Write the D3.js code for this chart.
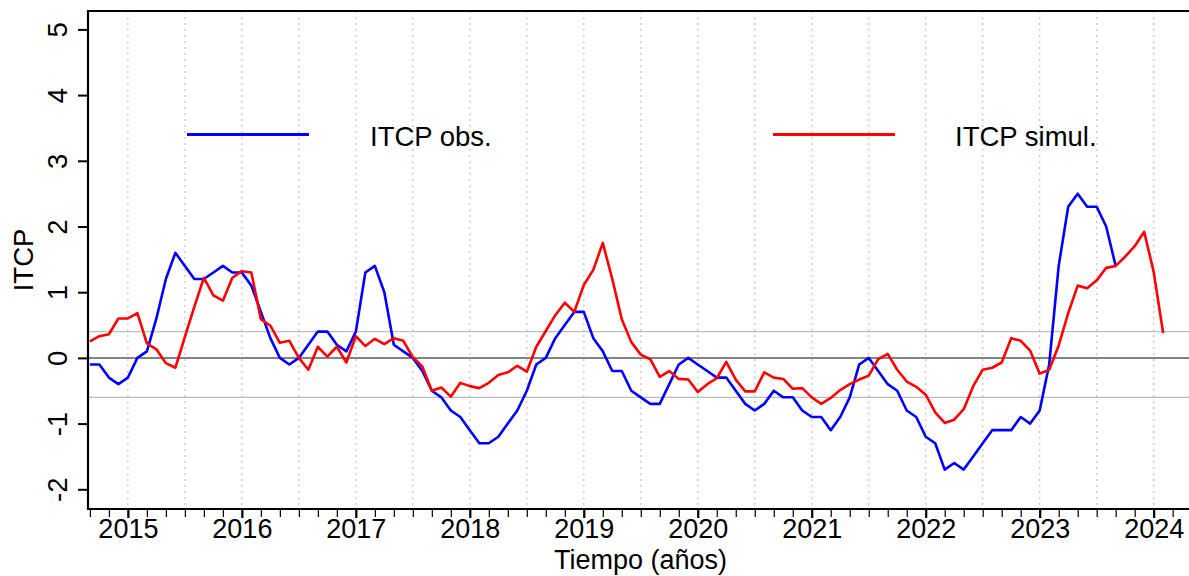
<!DOCTYPE html>
<html>
<head>
<meta charset="utf-8">
<script src="https://cdn.jsdelivr.net/npm/d3@7"></script>
<style>
    body { margin: 0; background: #fff; }
    #chart { width: 1189px; height: 576px; overflow: hidden; }
    text { font-family: "Liberation Sans", Arial, sans-serif; fill: #000; }
</style>
</head>
<body>
<div id="chart"></div>
<script>

// monthly series, first month = sept 2014
let startYear = 2014;
let startMonth = 9;

// ITCP observado (hasta sept 2023)
let itcpObs = [
    -0.1, -0.1, -0.3, -0.4,
    -0.3, 0.0, 0.1, 0.6, 1.2, 1.6, 1.4, 1.2, 1.2, 1.3, 1.4, 1.3,
    1.3, 1.1, 0.7, 0.3, 0.0, -0.1, 0.0, 0.2, 0.4, 0.4, 0.2, 0.1,
    0.4, 1.3, 1.4, 1.0, 0.2, 0.1, 0.0, -0.2, -0.5, -0.6, -0.8, -0.9,
    -1.1, -1.3, -1.3, -1.2, -1.0, -0.8, -0.5, -0.1, 0.0, 0.3, 0.5, 0.7,
    0.7, 0.3, 0.1, -0.2, -0.2, -0.5, -0.6, -0.7, -0.7, -0.4, -0.1, 0.0,
    -0.1, -0.2, -0.3, -0.3, -0.5, -0.7, -0.8, -0.7, -0.5, -0.6, -0.6, -0.8,
    -0.9, -0.9, -1.1, -0.9, -0.6, -0.1, 0.0, -0.2, -0.4, -0.5, -0.8, -0.9,
    -1.2, -1.3, -1.7, -1.6, -1.7, -1.5, -1.3, -1.1, -1.1, -1.1, -0.9, -1.0,
    -0.8, -0.1, 1.4, 2.3, 2.5, 2.3, 2.3, 2.0, 1.4
];

// ITCP simulado (hasta feb 2024)
let itcpSimul = [
    0.25, 0.33, 0.36, 0.60,
    0.60, 0.68, 0.22, 0.13, -0.08, -0.15, 0.32, 0.78, 1.22, 0.95, 0.87, 1.22,
    1.32, 1.30, 0.59, 0.49, 0.23, 0.26, 0.00, -0.18, 0.17, 0.02, 0.17, -0.07,
    0.33, 0.18, 0.29, 0.21, 0.30, 0.26, 0.01, -0.13, -0.50, -0.45, -0.59, -0.38,
    -0.43, -0.46, -0.38, -0.26, -0.22, -0.12, -0.21, 0.17, 0.41, 0.65, 0.84, 0.70,
    1.11, 1.34, 1.75, 1.20, 0.59, 0.24, 0.05, -0.02, -0.29, -0.20, -0.32, -0.33,
    -0.52, -0.40, -0.31, -0.06, -0.33, -0.51, -0.51, -0.22, -0.30, -0.32, -0.47, -0.46,
    -0.60, -0.70, -0.61, -0.49, -0.40, -0.33, -0.27, -0.02, 0.06, -0.18, -0.36, -0.44,
    -0.56, -0.83, -0.99, -0.94, -0.78, -0.43, -0.18, -0.15, -0.07, 0.30, 0.26, 0.11,
    -0.24, -0.18, 0.19, 0.68, 1.10, 1.06, 1.18, 1.37, 1.40, 1.54, 1.70, 1.92,
    1.31, 0.38
];

let yearTicks = [2015, 2016, 2017, 2018, 2019, 2020, 2021, 2022, 2023, 2024];
let yTicks = [-2, -1, 0, 1, 2, 3, 4, 5];
let refLines = [0.4, -0.6];
let seriesNames = ["ITCP obs.", "ITCP simul."];
let seriesColors = ["#0000ff", "#ff0000"];


class LineChart {

    constructor(parentElement) {
        this.parentElement = parentElement;
        this.initVis();
    }

    initVis() {
        let vis = this;

        vis.margin = {top: 11, right: 0, bottom: 67, left: 88};
        vis.width = 1189 - vis.margin.left - vis.margin.right;
        vis.height = 576 - vis.margin.top - vis.margin.bottom;

        vis.svg = d3.select("#" + vis.parentElement).append("svg")
            .attr("width", 1189)
            .attr("height", 576)
            .append("g")
            .attr("transform", "translate(" + vis.margin.left + "," + vis.margin.top + ")");

        // scales
        vis.x = d3.scaleLinear()
            .domain([2014.65, 2024.31])
            .range([0, vis.width]);

        vis.y = d3.scaleLinear()
            .domain([-2.3, 5.28])
            .range([vis.height, 0]);

        // dotted grid every half year
        vis.svg.append("g")
            .selectAll("line")
            .data(d3.range(2015, 2024.01, 0.5))
            .enter()
            .append("line")
            .attr("x1", d => vis.x(d))
            .attr("x2", d => vis.x(d))
            .attr("y1", 0)
            .attr("y2", vis.height)
            .attr("stroke", "#c4c4c4")
            .attr("stroke-width", 1.2)
            .attr("stroke-dasharray", "2,4");

        // reference lines
        vis.svg.append("g")
            .selectAll("line")
            .data(refLines)
            .enter()
            .append("line")
            .attr("x1", 0)
            .attr("x2", vis.width)
            .attr("y1", d => vis.y(d))
            .attr("y2", d => vis.y(d))
            .attr("stroke", "#bdbdbd")
            .attr("stroke-width", 1.2);

        vis.svg.append("line")
            .attr("x1", 0)
            .attr("x2", vis.width)
            .attr("y1", vis.y(0))
            .attr("y2", vis.y(0))
            .attr("stroke", "#5a5a5a")
            .attr("stroke-width", 1.5);

        // y axis (plain hyphen for negatives)
        vis.yAxis = d3.axisLeft(vis.y)
            .tickValues(yTicks)
            .tickSize(10)
            .tickPadding(10)
            .tickFormat(d => String(d));

        vis.yAxisGroup = vis.svg.append("g").call(vis.yAxis);
        vis.yAxisGroup.select(".domain").remove();
        vis.yAxisGroup.selectAll(".tick line").attr("stroke", "#000").attr("stroke-width", 2);
        vis.yAxisGroup.selectAll(".tick text")
            .attr("x", null)
            .attr("dy", null)
            .attr("transform", "translate(-21,0) rotate(-90)")
            .attr("text-anchor", "middle")
            .style("font-size", "27.5px");

        // x axis: minor ticks every two months, labels on the years
        vis.xMinor = d3.axisBottom(vis.x)
            .tickValues(d3.range(2014 + 8 / 12, 2024.3, 1 / 6))
            .tickSize(8)
            .tickFormat("");
        vis.xMinorGroup = vis.svg.append("g")
            .attr("transform", "translate(0," + vis.height + ")")
            .call(vis.xMinor);
        vis.xMinorGroup.select(".domain").remove();
        vis.xMinorGroup.selectAll(".tick line").attr("stroke", "#000").attr("stroke-width", 1.2);

        vis.xAxis = d3.axisBottom(vis.x)
            .tickValues(yearTicks)
            .tickSize(9)
            .tickPadding(4)
            .tickFormat(d => String(d));
        vis.xAxisGroup = vis.svg.append("g")
            .attr("transform", "translate(0," + vis.height + ")")
            .call(vis.xAxis);
        vis.xAxisGroup.select(".domain").remove();
        vis.xAxisGroup.selectAll(".tick line").attr("stroke", "#000").attr("stroke-width", 2.2);
        vis.xAxisGroup.selectAll(".tick text")
            .attr("dy", null)
            .attr("y", 29)
            .style("font-size", "27px");

        // frame: left, top, bottom
        vis.svg.append("path")
            .attr("d", "M" + vis.width + ",0H0V" + vis.height + "H" + vis.width)
            .attr("fill", "none")
            .attr("stroke", "#000")
            .attr("stroke-width", 2.2);

        // axis titles
        vis.svg.append("text")
            .attr("transform", "translate(-55," + (vis.height / 2) + ") rotate(-90)")
            .attr("text-anchor", "middle")
            .style("font-size", "27.5px")
            .text("ITCP");

        vis.svg.append("text")
            .attr("x", vis.width / 2 + 2)
            .attr("y", vis.height + 60)
            .attr("text-anchor", "middle")
            .style("font-size", "27px")
            .text("Tiempo (años)");

        vis.line = d3.line()
            .x(d => vis.x(d.t))
            .y(d => vis.y(d.value));

        vis.lineGroup = vis.svg.append("g").attr("class", "lines");

        // legend
        vis.legendPos = [{x: 99, tx: 282}, {x: 685, tx: 867}];
        vis.legend = vis.svg.append("g")
            .selectAll("g")
            .data(seriesNames)
            .enter()
            .append("g")
            .attr("transform", (d, i) => "translate(" + vis.legendPos[i].x + "," + vis.y(3.4) + ")");

        vis.legend.append("line")
            .attr("x1", 0)
            .attr("x2", 122)
            .attr("stroke", (d, i) => seriesColors[i])
            .attr("stroke-width", 3);

        vis.legend.append("text")
            .attr("x", (d, i) => vis.legendPos[i].tx - vis.legendPos[i].x)
            .attr("y", 11)
            .style("font-size", "27.5px")
            .text(d => d);

        this.wrangleData();
    }

    wrangleData() {
        let vis = this;

        let toSeries = arr => arr.map((v, i) => ({
            t: startYear + (startMonth - 1 + i) / 12,
            value: v
        }));

        vis.displayData = [toSeries(itcpObs), toSeries(itcpSimul)];

        vis.updateVis();
    }

    updateVis() {
        let vis = this;

        let paths = vis.lineGroup.selectAll(".series")
            .data(vis.displayData);

        paths.enter()
            .append("path")
            .attr("class", "series")
            .merge(paths)
            .attr("fill", "none")
            .attr("stroke", (d, i) => seriesColors[i])
            .attr("stroke-width", 2.6)
            .attr("stroke-linejoin", "round")
            .attr("d", vis.line);
    }
}

new LineChart("chart");
</script>
</body>
</html>
